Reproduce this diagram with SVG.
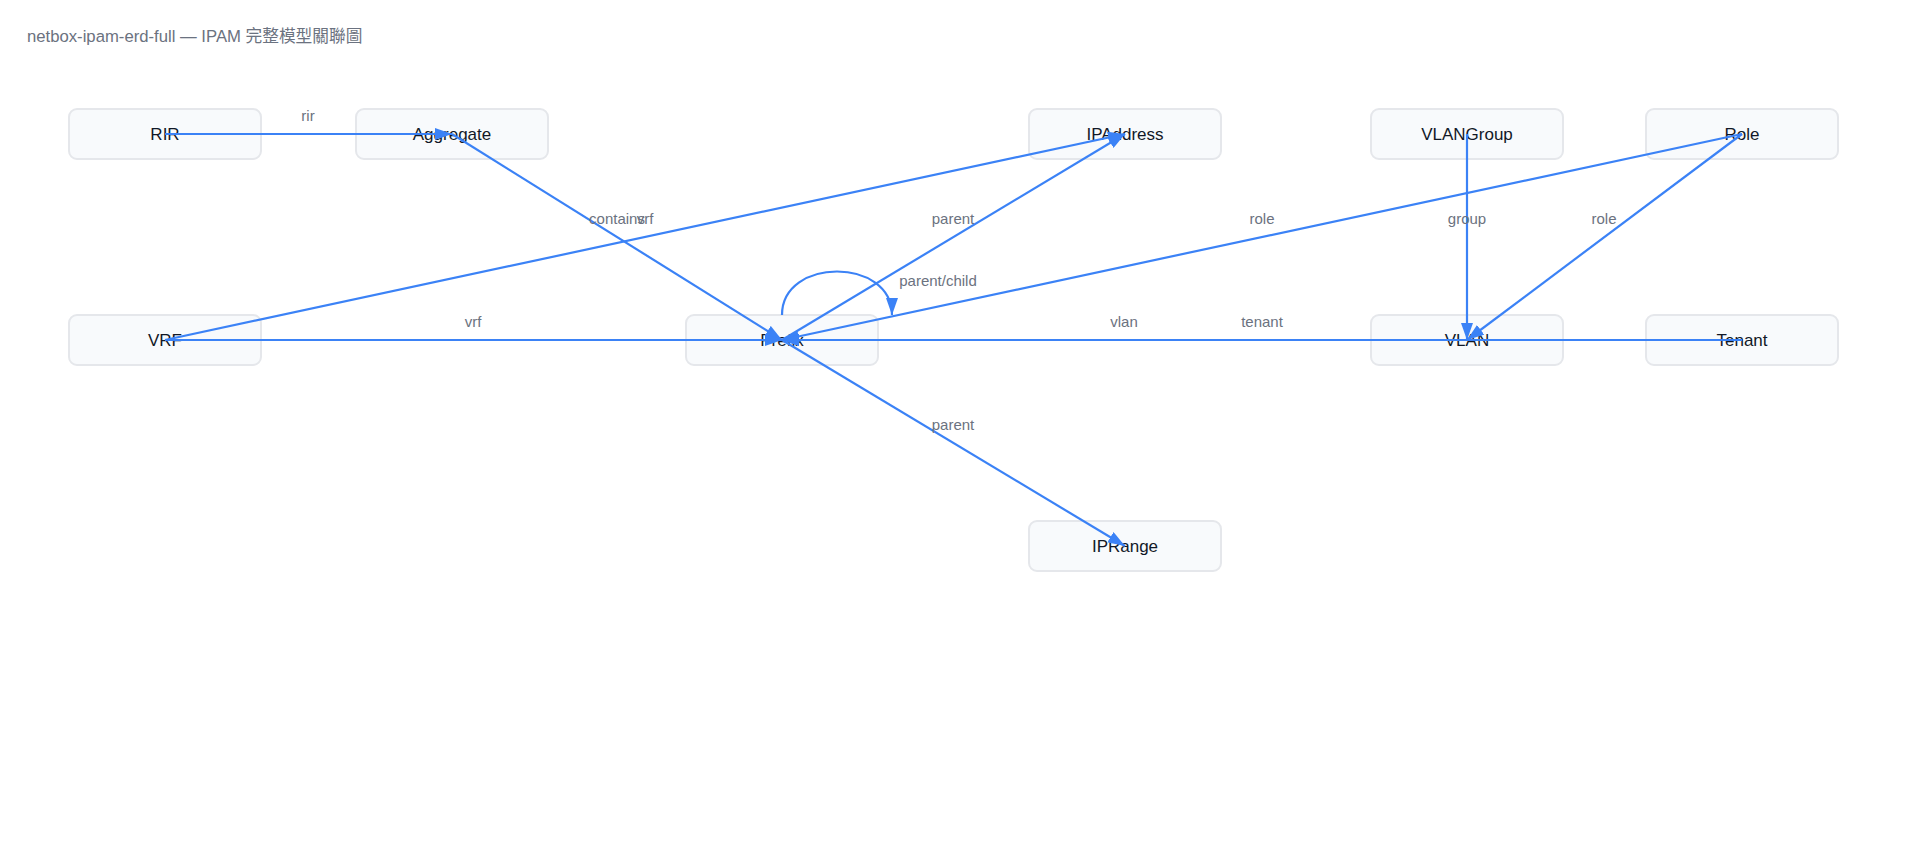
<svg xmlns="http://www.w3.org/2000/svg" width="1920" height="851" viewBox="0 0 1920 851">
<defs>
<style>
.node rect{fill:#f8fafc;stroke:#e5e7eb;stroke-width:2}
.node text{font-family:"Liberation Sans","Noto Sans",Arial,sans-serif;font-size:17px;fill:#111827;text-anchor:middle;dominant-baseline:central}
.edge{stroke:#3b82f6;stroke-width:2.2;fill:none;marker-end:url(#arrow)}
.elabel{font-family:"Liberation Sans","Noto Sans",Arial,sans-serif;font-size:15px;fill:#6b7280;text-anchor:middle;dominant-baseline:central}
.title{font-family:"Liberation Sans","Noto Sans CJK TC",sans-serif;font-size:16.7px;fill:#6b7280}
</style>
<marker id="arrow" markerUnits="userSpaceOnUse" markerWidth="18" markerHeight="12" refX="17" refY="6" orient="auto">
<path d="M0,0 L17,6 L0,12 z" fill="#3b82f6"/>
</marker>
</defs>
<rect width="1920" height="851" fill="#ffffff"/>
<text class="title" x="27" y="42">netbox-ipam-erd-full — IPAM 完整模型關聯圖</text>

<g id="node-RIR" class="node"><rect x="69" y="109" width="192" height="50" rx="8"/><text x="165" y="134">RIR</text></g>
<g id="node-Aggregate" class="node"><rect x="356" y="109" width="192" height="50" rx="8"/><text x="452" y="134">Aggregate</text></g>
<g id="node-IPAddress" class="node"><rect x="1029" y="109" width="192" height="50" rx="8"/><text x="1125" y="134">IPAddress</text></g>
<g id="node-VLANGroup" class="node"><rect x="1371" y="109" width="192" height="50" rx="8"/><text x="1467" y="134">VLANGroup</text></g>
<g id="node-Role" class="node"><rect x="1646" y="109" width="192" height="50" rx="8"/><text x="1742" y="134">Role</text></g>
<g id="node-VRF" class="node"><rect x="69" y="315" width="192" height="50" rx="8"/><text x="165" y="340">VRF</text></g>
<g id="node-Prefix" class="node"><rect x="686" y="315" width="192" height="50" rx="8"/><text x="782" y="340">Prefix</text></g>
<g id="node-VLAN" class="node"><rect x="1371" y="315" width="192" height="50" rx="8"/><text x="1467" y="340">VLAN</text></g>
<g id="node-Tenant" class="node"><rect x="1646" y="315" width="192" height="50" rx="8"/><text x="1742" y="340">Tenant</text></g>
<g id="node-IPRange" class="node"><rect x="1029" y="521" width="192" height="50" rx="8"/><text x="1125" y="546">IPRange</text></g>

<g id="connectors">
<path class="edge" d="M165,134 L452,134"/>
<path class="edge" d="M452,134 L782,340"/>
<path class="edge" d="M165,340 L1125,134"/>
<path class="edge" d="M782,340 L1125,134"/>
<path class="edge" d="M1742,134 L782,340"/>
<path class="edge" d="M1467,134 L1467,340"/>
<path class="edge" d="M1742,134 L1467,340"/>
<path class="edge" d="M782,315 C782,257 892,257 892,315"/>
<path class="edge" d="M165,340 L782,340"/>
<path class="edge" d="M1467,340 L782,340"/>
<path class="edge" d="M1742,340 L782,340"/>
<path class="edge" d="M782,340 L1125,546"/>
<text class="elabel" x="308" y="115">rir</text>
<text class="elabel" x="617" y="218">contains</text>
<text class="elabel" x="645" y="218">vrf</text>
<text class="elabel" x="953" y="218">parent</text>
<text class="elabel" x="1262" y="218">role</text>
<text class="elabel" x="1467" y="218">group</text>
<text class="elabel" x="1604" y="218">role</text>
<text class="elabel" x="938" y="280">parent/child</text>
<text class="elabel" x="473" y="321">vrf</text>
<text class="elabel" x="1124" y="321">vlan</text>
<text class="elabel" x="1262" y="321">tenant</text>
<text class="elabel" x="953" y="424">parent</text>
</g>
</svg>
